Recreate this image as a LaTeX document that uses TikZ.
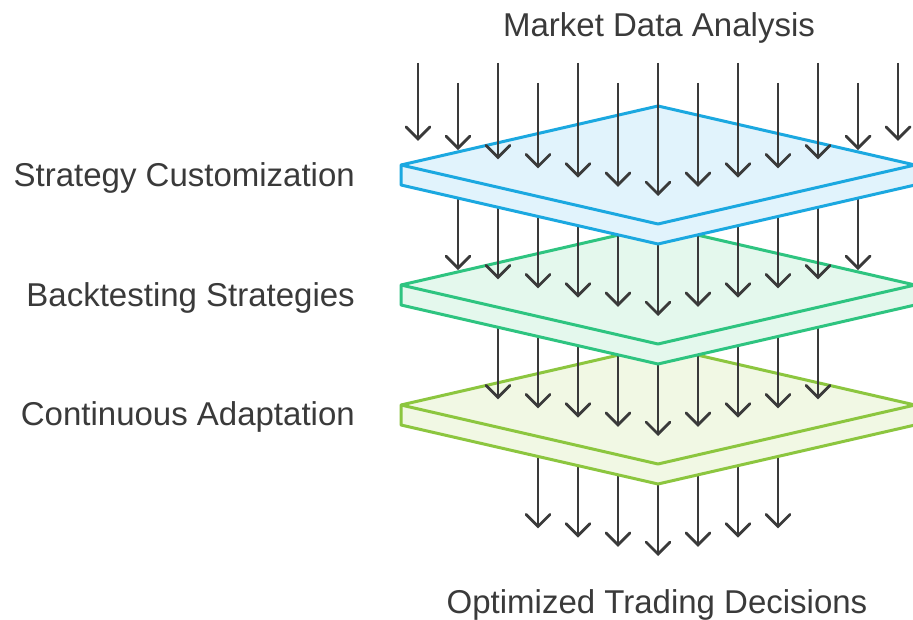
\documentclass[tikz,border=0pt]{standalone}
\usepackage{fontspec}
\setmainfont{Liberation Sans}
\usetikzlibrary{arrows.meta}
\definecolor{ink}{HTML}{3A3A3A}
\definecolor{blueS}{HTML}{1BA8E0}
\definecolor{blueF}{HTML}{E1F3FC}
\definecolor{greenS}{HTML}{2EC480}
\definecolor{greenF}{HTML}{E4F8ED}
\definecolor{limeS}{HTML}{8CC63F}
\definecolor{limeF}{HTML}{F1F8E4}
\newcommand\drawplate[3]{%
  \fill[#3] (401,#1) -- (658,#1-59) -- (915,#1) -- (915,#1+20) -- (658,#1+79) -- (401,#1+20) -- cycle;
  \draw[plate,#2] (401,#1) -- (658,#1-59) -- (915,#1) -- (915,#1+20) -- (658,#1+79) -- (401,#1+20) -- cycle;
  \draw[plate,#2] (401,#1) -- (658,#1+59) -- (915,#1);
}
% #1 = plate row y0, #2 = max |k|, #3 = tail y (fixed), name prefix #4
\newcommand\arrowrow[4]{%
  \foreach \k in {-#2,...,#2}{%
    \pgfmathsetmacro\xx{658+40*\k}%
    \pgfmathsetmacro\tb{#1+31-9.18*abs(\k)}%
    \coordinate (#4s\k) at (\xx,#3);
    \coordinate (#4e\k) at (\xx,\tb);
    \draw[flow] (#4s\k) -- (#4e\k);
  }%
}
\begin{document}
\begin{tikzpicture}[x=1pt,y=-1pt,
  flow/.style={draw=ink, line width=2.8pt, line join=round, -{Straight Barb[length=12pt,width=24pt,line cap=round]}},
  lbl/.style={font=\fontsize{33}{39}\selectfont, text=ink, inner sep=0pt},
  plate/.style={line width=3pt, line join=round}]
\useasboundingbox (0,0) rectangle (913,620);
\clip (0,0) rectangle (913,620);
\fill[white] (0,0) rectangle (913,620);

% bottom arrows (below lime plate)
\arrowrow{525}{3}{415}{d}
% lime plate
\drawplate{405}{limeS}{limeF}
% arrows green -> lime
\arrowrow{405}{4}{295}{c}
% green plate
\drawplate{285}{greenS}{greenF}
% arrows blue -> green
\arrowrow{285}{5}{175}{b}
% blue plate
\drawplate{165}{blueS}{blueF}
% top arrows
\foreach \k in {-6,...,6}{%
  \pgfmathsetmacro\xx{658+40*\k}%
  \pgfmathsetmacro\ta{63+20*mod(abs(\k),2)}%
  \pgfmathsetmacro\tb{165+31-9.18*abs(\k)}%
  \coordinate (as\k) at (\xx,\ta);
  \coordinate (ae\k) at (\xx,\tb);
  \draw[flow] (as\k) -- (ae\k);
}

% labels
\node[lbl, anchor=base] (top) at (659,37) {Market Data Analysis};
\node[lbl, anchor=base] (bot) at (657,613) {Optimized Trading Decisions};
\node[lbl, anchor=base east] (l1) at (355,187) {Strategy Customization};
\node[lbl, anchor=base east] (l2) at (355,307) {Backtesting Strategies};
\node[lbl, anchor=base east] (l3) at (355,425) {Continuous Adaptation};
\end{tikzpicture}
\end{document}
